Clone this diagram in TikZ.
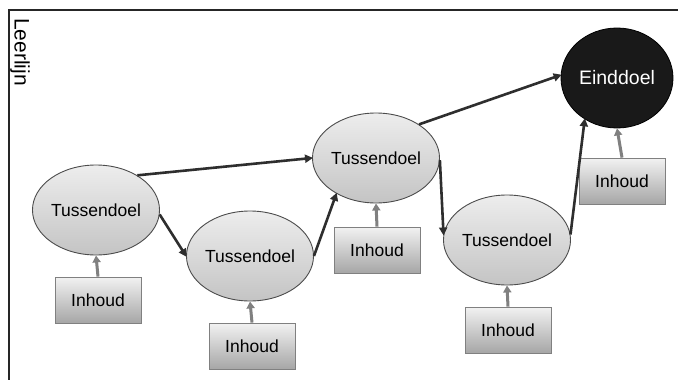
\documentclass[tikz,border=0pt]{standalone}
\usepackage{fontspec}
\setmainfont{Liberation Sans}
\usetikzlibrary{arrows.meta,shapes.geometric}
\definecolor{arrdark}{HTML}{2E2E2E}
\definecolor{arrgray}{HTML}{808080}
\definecolor{elltop}{HTML}{EDEDED}
\definecolor{ellbot}{HTML}{C4C4C4}
\definecolor{boxtop}{HTML}{F2F2F2}
\definecolor{boxbot}{HTML}{A6A6A6}
\tikzset{
  tdoel/.style={ellipse, draw=black!70, line width=0.9pt, top color=elltop, bottom color=ellbot,
    minimum width=118pt, minimum height=90pt, inner sep=0pt, font=\fontsize{17.5}{20}\selectfont},
  edoel/.style={ellipse, draw=black, line width=0.8pt, fill=black!90, text=white,
    minimum width=112pt, minimum height=100pt, inner sep=0pt, font=\fontsize{19.5}{22}\selectfont},
  inhoudbox/.style={rectangle, draw=black!50, line width=0.8pt, top color=boxtop, bottom color=boxbot,
    minimum width=86pt, minimum height=46pt, inner sep=0pt, font=\fontsize{17.5}{20}\selectfont},
  darrow/.style={draw=arrdark, line width=2.6pt, -{Triangle[length=8pt,width=8pt]}, shorten >=-1pt},
  garrow/.style={draw=arrgray, line width=3pt, -{Triangle[length=7pt,width=8pt]}}
}
\begin{document}
\begin{tikzpicture}[x=1pt,y=-1pt]
\useasboundingbox[fill=white] (0,0) rectangle (678,380);
\coordinate (ftl) at (9,10);
\coordinate (ftr) at (678,10);
\coordinate (fbl) at (9,380);
\draw[line width=1.5pt, black!85] (ftr) -- (ftl) -- (fbl);
\node[rotate=-90, font=\fontsize{21}{23}\selectfont, inner sep=0pt] (lbl) at (20,52) {Leerlijn};

\node[tdoel] (t1) at (96,210) {Tussendoel};
\node[tdoel] (t2) at (250,256) {Tussendoel};
\node[tdoel] (t3) at (376,158) {Tussendoel};
\node[tdoel] (t4) at (507,240) {Tussendoel};
\node[edoel] (e) at (617,78) {Einddoel};

\node[inhoudbox] (b1) at (98,300) {Inhoud};
\node[inhoudbox] (b2) at (252,346) {Inhoud};
\node[inhoudbox] (b3) at (377,250) {Inhoud};
\node[inhoudbox] (b4) at (508,330) {Inhoud};
\node[inhoudbox] (b5) at (622,181) {Inhoud};

\draw[garrow] (b1.north) -- (t1.south);
\draw[garrow] (b2.north) -- (t2.south);
\draw[garrow] (b3.north) -- (t3.south);
\draw[garrow] (b4.north) -- (t4.south);
\draw[garrow] (b5.north) -- (e.south);

\draw[darrow] (t1.40) -- (t3.180);
\draw[darrow] (t1.-4) -- (t2.180);
\draw[darrow] (t2.0) -- (t3.222);
\draw[darrow] (t3.-2) -- (t4.175);
\draw[darrow] (t3.38) -- (e.177);
\draw[darrow] (t4.5) -- (e.232);
\end{tikzpicture}
\end{document}
